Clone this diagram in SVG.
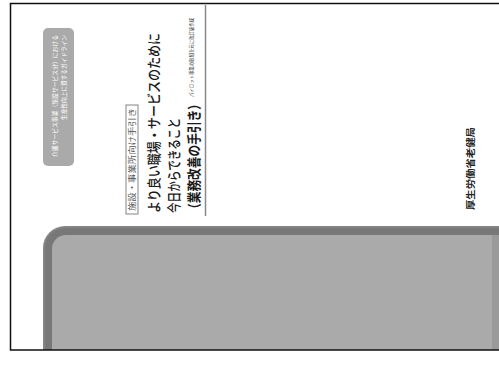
<svg xmlns="http://www.w3.org/2000/svg" width="499" height="367" viewBox="0 0 499 367">
<style>
text{font-family:"Noto Sans CJK JP","Noto Sans",sans-serif;}
.title{font-size:14px;font-weight:500;fill:#1a1a1a;}
.strong{font-weight:700;}
.pill{font-size:6px;fill:#ffffff;}
.small{font-size:5px;fill:#333;}
.label{font-size:8px;fill:#555;}
.org{font-size:9px;font-weight:700;fill:#222;}
</style>
<defs>
<clipPath id="page"><rect x="10" y="3" width="500" height="347"/></clipPath>
</defs>
<rect x="0" y="0" width="499" height="367" fill="#ffffff"/>
<g id="panel" clip-path="url(#page)">
<rect x="43" y="226" width="500" height="200" rx="22" fill="#858585"/>
<rect x="45" y="228" width="500" height="200" rx="20" fill="#787878"/>
<rect x="52" y="235" width="480" height="200" rx="14" fill="#aaaaaa"/>
<rect x="492" y="235" width="10" height="120" fill="#9a9a9a"/>
</g>
<g id="pill">
<rect x="43" y="28" width="31" height="138" rx="5" fill="#aaaaaa"/>
<text class="pill" transform="translate(57,157) rotate(-90)" textLength="122" lengthAdjust="spacingAndGlyphs">介護サービス事業（施設サービス分）における</text>
<text class="pill" transform="translate(66,120) rotate(-90)" textLength="85" lengthAdjust="spacingAndGlyphs">生産性向上に資するガイドライン</text>
</g>
<g id="label">
<rect x="126" y="105" width="12" height="109" fill="#ffffff" stroke="#666" stroke-width="0.8"/>
<text class="label" transform="translate(135,211) rotate(-90)" textLength="103" lengthAdjust="spacingAndGlyphs">施設・事業所向け手引き</text>
</g>
<g id="title">
<text class="title" transform="translate(159,213) rotate(-90)" textLength="180" lengthAdjust="spacingAndGlyphs">より良い職場・サービスのために</text>
<text class="title" transform="translate(179,213) rotate(-90)" textLength="95" lengthAdjust="spacingAndGlyphs">今日からできること</text>
<text class="title strong" transform="translate(199,215) rotate(-90)" textLength="117" lengthAdjust="spacingAndGlyphs">（業務改善の手引き）</text>
<text class="small" transform="translate(193,97) rotate(-90)" textLength="79" lengthAdjust="spacingAndGlyphs">パイロット事業の取組を元に改訂版作成</text>
</g>
<g id="divider">
<line x1="205.5" y1="5" x2="205.5" y2="216" stroke="#888888" stroke-width="1.5"/>
</g>
<g id="publisher">
<text class="org" transform="translate(474,210) rotate(-90)" textLength="83" lengthAdjust="spacingAndGlyphs">厚生労働省老健局</text>
</g>
<g id="frame">
<rect x="10.5" y="3.5" width="510" height="346.5" fill="none" stroke="#111111" stroke-width="1.5"/>
</g>
</svg>
